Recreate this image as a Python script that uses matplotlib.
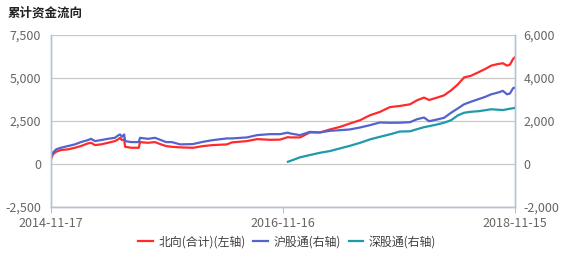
import matplotlib
matplotlib.use("Agg")
import matplotlib.pyplot as plt
import pandas as pd
from matplotlib.ticker import FuncFormatter

plt.rcParams['font.family'] = ['Noto Sans CJK SC', 'DejaVu Sans']

dates = ["2014-11-17", "2014-11-23", "2014-12-03", "2014-12-18", "2015-01-09", "2015-01-31",
         "2015-02-19", "2015-03-13", "2015-03-23", "2015-04-04", "2015-04-23", "2015-05-15",
         "2015-06-06", "2015-06-16", "2015-06-22", "2015-06-28", "2015-07-05", "2015-07-08",
         "2015-07-27", "2015-08-20", "2015-08-24", "2015-09-18", "2015-10-10", "2015-10-29",
         "2015-11-14", "2015-12-02", "2015-12-28", "2016-02-06", "2016-03-09", "2016-04-09",
         "2016-05-23", "2016-06-08", "2016-07-25", "2016-08-26", "2016-10-06", "2016-11-06",
         "2016-12-01", "2016-12-08", "2017-01-08", "2017-02-08", "2017-03-12", "2017-04-12",
         "2017-05-14", "2017-06-14", "2017-07-16", "2017-08-16", "2017-09-16", "2017-10-18",
         "2017-11-18", "2017-12-20", "2018-01-11", "2018-02-02", "2018-02-18", "2018-03-15",
         "2018-04-06", "2018-04-28", "2018-05-20", "2018-06-08", "2018-06-30", "2018-07-22",
         "2018-08-13", "2018-09-01", "2018-09-23", "2018-10-08", "2018-10-21", "2018-10-30",
         "2018-11-09", "2018-11-15"]

# 北向(合计) - left axis
north = [270, 561, 712, 810, 851, 943,
         1042, 1198, 1233, 1100, 1140, 1233,
         1331, 1429, 1522, 1389, 1429, 1001,
         943, 943, 1273, 1233, 1273, 1140,
         1042, 1001, 966, 943, 1042, 1100,
         1140, 1256, 1331, 1447, 1406, 1418,
         1562, 1545, 1545, 1834, 1834, 2008,
         2159, 2355, 2546, 2836, 3027, 3310,
         3374, 3472, 3704, 3860, 3721, 3860,
         3993, 4282, 4641, 5035, 5133, 5324,
         5521, 5718, 5816, 5857, 5718, 5775,
         6111, 6204]

# 沪股通 - right axis
sh = [292, 523, 681, 755, 833, 912,
      1019, 1111, 1171, 1065, 1111, 1171,
      1218, 1329, 1375, 1264, 1375, 1065,
      1019, 1019, 1218, 1171, 1218, 1111,
      1019, 1019, 912, 926, 1032, 1111,
      1190, 1190, 1236, 1343, 1389, 1389,
      1458, 1421, 1343, 1495, 1468, 1542,
      1574, 1607, 1699, 1806, 1931, 1917,
      1921, 1945, 2083, 2162, 1991, 2070,
      2148, 2384, 2593, 2778, 2898, 3010,
      3121, 3241, 3324, 3403, 3241, 3278,
      3528, 3556]

# 深股通 - right axis (from 2016-12-01)
sz_start = "2016-12-01"
sz = [106, 139, 310, 417, 523, 602,
      727, 847, 986, 1144, 1264, 1380,
      1510, 1520, 1620, 1713, 1760, 1838,
      1921, 2037, 2269, 2384, 2430, 2454,
      2500, 2546, 2523, 2509, 2546, 2570,
      2593, 2616]

xticks = ["2014-11-17", "2016-11-16", "2018-11-15"]
left_ticks = [-2500, 0, 2500, 5000, 7500]
right_ticks = [-2000, 0, 2000, 4000, 6000]
labels = ["北向(合计)(左轴)", "沪股通(右轴)", "深股通(右轴)"]
colors = ["#FF2B2B", "#5563CC", "#1F9AA8"]

d = pd.to_datetime(dates)
i0 = dates.index(sz_start)
d_sz = d[i0:]

fig = plt.figure(figsize=(5.65, 2.62), dpi=100)
ax = fig.add_axes([51/565, 1-207/262, (515-51)/565, (207-35)/262])
ax2 = ax.twinx()

spine_c = "#B4C4D6"
grid_c = "#C8C8C8"
tick_c = "#666666"

l1, = ax.plot(d, north, color=colors[0], lw=1.6)
l2, = ax2.plot(d, sh, color=colors[1], lw=1.6)
l3, = ax2.plot(d_sz, sz, color=colors[2], lw=1.6)

ax.set_xlim(pd.Timestamp(xticks[0]), pd.Timestamp(xticks[-1]))
ax.set_ylim(left_ticks[0], left_ticks[-1])
ax2.set_ylim(right_ticks[0], right_ticks[-1])
ax.set_yticks(left_ticks)
ax2.set_yticks(right_ticks)
fmt = FuncFormatter(lambda v, p: f"{int(v):,}")
ax.yaxis.set_major_formatter(fmt)
ax2.yaxis.set_major_formatter(fmt)

ax.set_xticks(pd.to_datetime(xticks))
ax.set_xticklabels(xticks)

ax.grid(axis='y', color=grid_c, lw=0.9)
ax.set_axisbelow(True)

for a in (ax, ax2):
    a.spines['top'].set_visible(False)
    for s in ('left', 'right', 'bottom'):
        a.spines[s].set_color(spine_c)
        a.spines[s].set_linewidth(1.0)

ax.tick_params(axis='y', length=0, pad=7, labelsize=9, labelcolor=tick_c)
ax2.tick_params(axis='y', length=0, pad=6, labelsize=9, labelcolor=tick_c)
ax.tick_params(axis='x', length=4, color=spine_c, pad=3, labelsize=9, labelcolor=tick_c)

fig.text(8/565, 1-13/262, "累计资金流向", fontsize=9, fontweight='bold', color='#222222',
         va='center', ha='left')

fig.legend([l1, l2, l3], labels, loc='center', bbox_to_anchor=(0.508, 1-242/262),
           ncol=3, frameon=False, fontsize=8.6, handlelength=1.25, handletextpad=0.45,
           columnspacing=0.65, labelcolor='#404040')

fig.savefig("out.png", dpi=100)
